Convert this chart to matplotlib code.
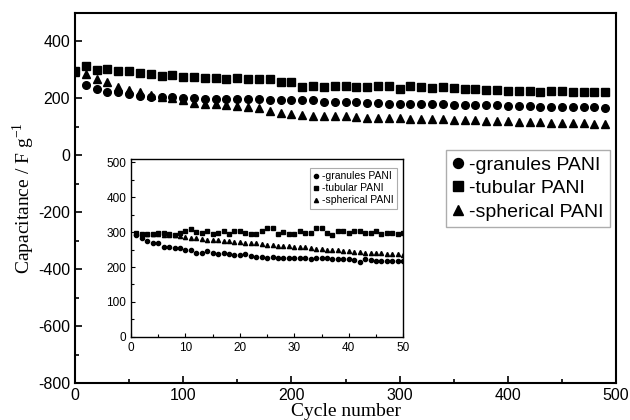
import matplotlib
matplotlib.use('Agg')
import matplotlib.pyplot as plt
from matplotlib.ticker import MultipleLocator

# main plot: every 10th cycle
cycles = list(range(0, 500, 10))
granules = [294, 246, 231, 222, 220, 216, 208, 204, 204, 204,
            201, 201, 198, 196, 196, 196, 196, 196, 194, 194,
            194, 194, 194, 186, 186, 186, 188, 184, 184, 180,
            180, 180, 178, 178, 178, 176, 176, 176, 174, 174,
            172, 172, 172, 170, 170, 170, 168, 168, 168, 165]
tubular = [294, 312, 300, 303, 296, 294, 288, 286, 276, 282,
           274, 273, 270, 270, 267, 270, 267, 267, 267, 258,
           258, 240, 244, 240, 244, 244, 240, 240, 244, 244,
           231, 244, 240, 235, 240, 235, 232, 232, 228, 228,
           226, 226, 226, 222, 226, 226, 222, 222, 222, 222]
spherical = [292, 285, 268, 255, 240, 228, 220, 210, 204, 201,
             192, 183, 180, 180, 174, 172, 168, 165, 153, 148,
             144, 141, 138, 138, 136, 136, 135, 130, 130, 129,
             129, 128, 127, 126, 125, 124, 123, 122, 121, 120,
             118, 117, 116, 115, 114, 113, 112, 111, 110, 108]

# inset: first 50 cycles
cyclesInset = list(range(1, 51))
granulesInset = [292, 282, 275, 268, 268, 258, 258, 255, 255, 250,
                 250, 240, 240, 247, 240, 238, 240, 236, 235, 234,
                 237, 232, 228, 228, 227, 228, 225, 227, 225, 225,
                 225, 225, 224, 225, 226, 225, 224, 224, 223, 222,
                 220, 215, 222, 220, 218, 218, 218, 218, 218, 218]
tubularInset = [297, 295, 295, 295, 297, 297, 295, 292, 298, 302,
                310, 300, 298, 303, 295, 297, 302, 295, 303, 302,
                297, 295, 295, 303, 312, 312, 295, 300, 295, 295,
                302, 298, 298, 312, 312, 298, 293, 302, 302, 298,
                302, 302, 298, 298, 302, 295, 298, 298, 295, 298]
sphericalInset = [297, 295, 295, 294, 294, 293, 293, 292, 290, 285,
                  282, 282, 280, 278, 277, 276, 275, 274, 272, 271,
                  270, 269, 268, 265, 263, 262, 261, 260, 259, 258,
                  257, 256, 254, 252, 251, 250, 249, 248, 246, 245,
                  243, 242, 241, 240, 240, 239, 238, 237, 236, 235]

labels = ['-granules PANI', '-tubular PANI', '-spherical PANI']
markers = ['o', 's', '^']

plt.rcParams['font.family'] = ['Liberation Sans', 'DejaVu Sans']
plt.rcParams['axes.unicode_minus'] = False

fig = plt.figure(figsize=(6.3, 4.2), dpi=100)
ax = fig.add_axes([0.119, 0.088, 0.859, 0.882])

for y, m, lab in zip([granules, tubular, spherical], markers, labels):
    ax.plot(cycles, y, linestyle='none', marker=m, markersize=5.5, color='black', label=lab)

ax.set_xlim(0, 500)
ax.set_ylim(-800, 500)
ax.xaxis.set_major_locator(MultipleLocator(100))
ax.xaxis.set_minor_locator(MultipleLocator(50))
ax.yaxis.set_minor_locator(MultipleLocator(100))
ax.set_yticks(range(-800, 401, 200))
ax.tick_params(which='both', direction='in', labelsize=11.5, width=1.2)
ax.tick_params(which='major', length=5)
ax.tick_params(which='minor', length=3)
for s in ax.spines.values():
    s.set_linewidth(1.5)

ax.set_xlabel('Cycle number', family='Liberation Serif', fontsize=14, labelpad=0)
ax.set_ylabel(r'Capacitance / F g$^{\mathregular{-1}}$', family='Liberation Serif', fontsize=14, labelpad=1)

leg = ax.legend(loc='upper right', bbox_to_anchor=(0.988, 0.628), fontsize=14, handlelength=0.6,
                handletextpad=0.3, borderpad=0.3, labelspacing=0.3, fancybox=False,
                markerscale=1.3, borderaxespad=0)
leg.get_frame().set_edgecolor('#999999')
leg.get_frame().set_linewidth(1.0)

# inset
axi = fig.add_axes([0.208, 0.198, 0.432, 0.424])
for y, m, lab in zip([granulesInset, tubularInset, sphericalInset], markers, labels):
    axi.plot(cyclesInset, y, linestyle='none', marker=m, markersize=3, color='black', label=lab)

axi.set_xlim(0, 50)
axi.set_ylim(0, 510)
axi.set_xticks(range(0, 51, 10))
axi.set_yticks(range(0, 501, 100))
axi.xaxis.set_minor_locator(MultipleLocator(5))
axi.yaxis.set_minor_locator(MultipleLocator(50))
axi.tick_params(which='both', direction='in', labelsize=8.5, width=0.8)
axi.tick_params(which='major', length=3)
axi.tick_params(which='minor', length=2)
for s in axi.spines.values():
    s.set_linewidth(1.0)

legi = axi.legend(loc='upper right', bbox_to_anchor=(0.978, 0.95), fontsize=7.5, handlelength=0.5,
                  handletextpad=0.3, borderpad=0.35, labelspacing=0.2, fancybox=False,
                  markerscale=1.0, borderaxespad=0)
legi.get_frame().set_edgecolor('#999999')
legi.get_frame().set_linewidth(0.8)

fig.savefig('out.png', dpi=100)
